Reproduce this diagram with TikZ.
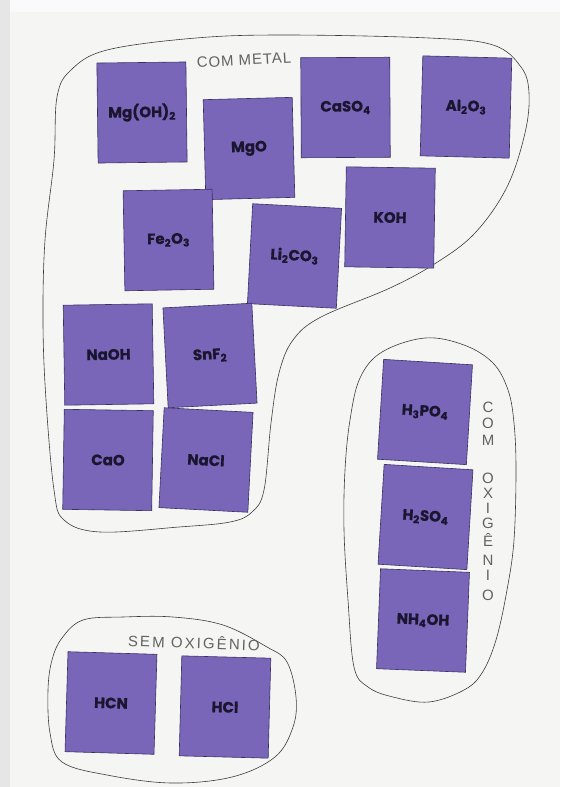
\documentclass[tikz,border=0pt]{standalone}
\usepackage{fontspec}
\setmainfont{Poppins}
\newfontfamily\handfont[LetterSpace=6]{Liberation Sans}
\newfontfamily\handwide[LetterSpace=14]{Liberation Sans}
\definecolor{paper}{HTML}{F5F5F3}
\definecolor{leftstrip}{HTML}{E6E6E6}
\definecolor{topstrip}{HTML}{FAFAFA}
\definecolor{cardfill}{HTML}{7966B8}
\definecolor{cardedge}{HTML}{3A3064}
\definecolor{cardtext}{HTML}{1A1630}
\definecolor{handgray}{HTML}{626262}
\definecolor{linegray}{HTML}{3C3C3C}
\begin{document}
\begin{tikzpicture}[x=1pt,y=-1pt,
  card/.style={draw=cardedge, line width=0.6pt, fill=cardfill,
    minimum width=89pt, minimum height=100pt, inner sep=0pt,
    font=\fontsize{15}{15}\selectfont\bfseries\addfontfeature{FakeBold=0.8}, text=cardtext},
  hand/.style={text=handgray, inner sep=0pt, font=\handfont\fontsize{15}{15}\selectfont},
  handw/.style={text=handgray, inner sep=0pt, font=\handwide\fontsize{15}{15}\selectfont},
  vletter/.style={text=handgray, inner sep=0pt, font=\handfont\fontsize{15}{15}\selectfont},
  outline/.style={draw=linegray, line width=0.6pt}]
\useasboundingbox (0,0) rectangle (560,787);
\fill[paper] (0,0) rectangle (560,787);
\fill[topstrip] (0,0) rectangle (560,12);
\fill[leftstrip] (0,0) rectangle (10,787);

% group outlines
\draw[outline] plot[smooth cycle, tension=0.6] coordinates {
 (107,50) (196,38) (286,35) (429,38) (493,45) (521,67) (529,93) (525,133)
 (507,187) (475,233) (436,263) (390,288) (321,317) (293,340) (279,373)
 (271,423) (264,490) (252,512) (230,522) (179,527) (100,532) (64,520)
 (54,490) (46,400) (43,323) (45,240) (54,160) (57,97) (71,70)};
\draw[outline] plot[smooth cycle, tension=0.6] coordinates {
 (425,338) (464,345) (493,363) (508,390) (514,423) (516,470) (514,540)
 (507,590) (496,640) (482,673) (464,690) (429,702) (393,697) (368,687)
 (354,667) (348,600) (344,530) (345,470) (350,420) (360,378) (382,352)};
\draw[outline] plot[smooth cycle, tension=0.6] coordinates {
 (123,617) (173,617) (223,625) (267,647) (287,662) (296,697) (293,727)
 (275,757) (232,777) (171,783) (107,775) (62,762) (50,733) (48,690)
 (52,660) (62,638) (83,620)};

% labels
\node[hand, rotate=3] (lblmetal) at (244,60) {COM METAL};
\node[handw, rotate=-2] (lblsem) at (194,642) {SEM OXIGÊNIO};
\foreach \ch/\yy [count=\i] in {C/407,O/423,M/440,O/478,X/493,I/508,G/523,Ê/540,N/560,I/575,O/595}
  \node[vletter] (v\i) at (488,\yy) {\ch};

% cards: com metal
\node[card, rotate=0.7] (mgoh) at (142,112.5) {Mg(OH)\textsubscript{2}};
\node[card, rotate=1.5] (mgo) at (249,148.5) {MgO};
\node[card, rotate=0.3] (caso) at (345.5,107.5) {CaSO\textsubscript{4}};
\node[card, rotate=-1.5] (alo) at (466,107) {Al\textsubscript{2}O\textsubscript{3}};
\node[card, rotate=1] (feo) at (168.5,240) {Fe\textsubscript{2}O\textsubscript{3}};
\node[card, rotate=-3] (lico) at (294.5,256) {Li\textsubscript{2}CO\textsubscript{3}};
\node[card, rotate=-0.9] (koh) at (390,217.5) {KOH};
\node[card, rotate=0.9] (naoh) at (108.5,354.5) {NaOH};
\node[card, rotate=3] (snf) at (210,355.5) {SnF\textsubscript{2}};
\node[card, rotate=-0.9] (cao) at (108,460) {CaO};
\node[card, rotate=-3] (nacl) at (206,460) {NaCl};
% com oxigenio
\node[card, rotate=-3.5] (hpo) at (425,412) {H\textsubscript{3}PO\textsubscript{4}};
\node[card, rotate=-3.5] (hso) at (425.5,517) {H\textsubscript{2}SO\textsubscript{4}};
\node[card, rotate=-2.3] (nhoh) at (423,620.5) {NH\textsubscript{4}OH};
% sem oxigenio
\node[card, rotate=-1.7] (hcn) at (111,703) {HCN};
\node[card, rotate=-1.5] (hcl) at (225,707) {HCl};
\end{tikzpicture}
\end{document}
